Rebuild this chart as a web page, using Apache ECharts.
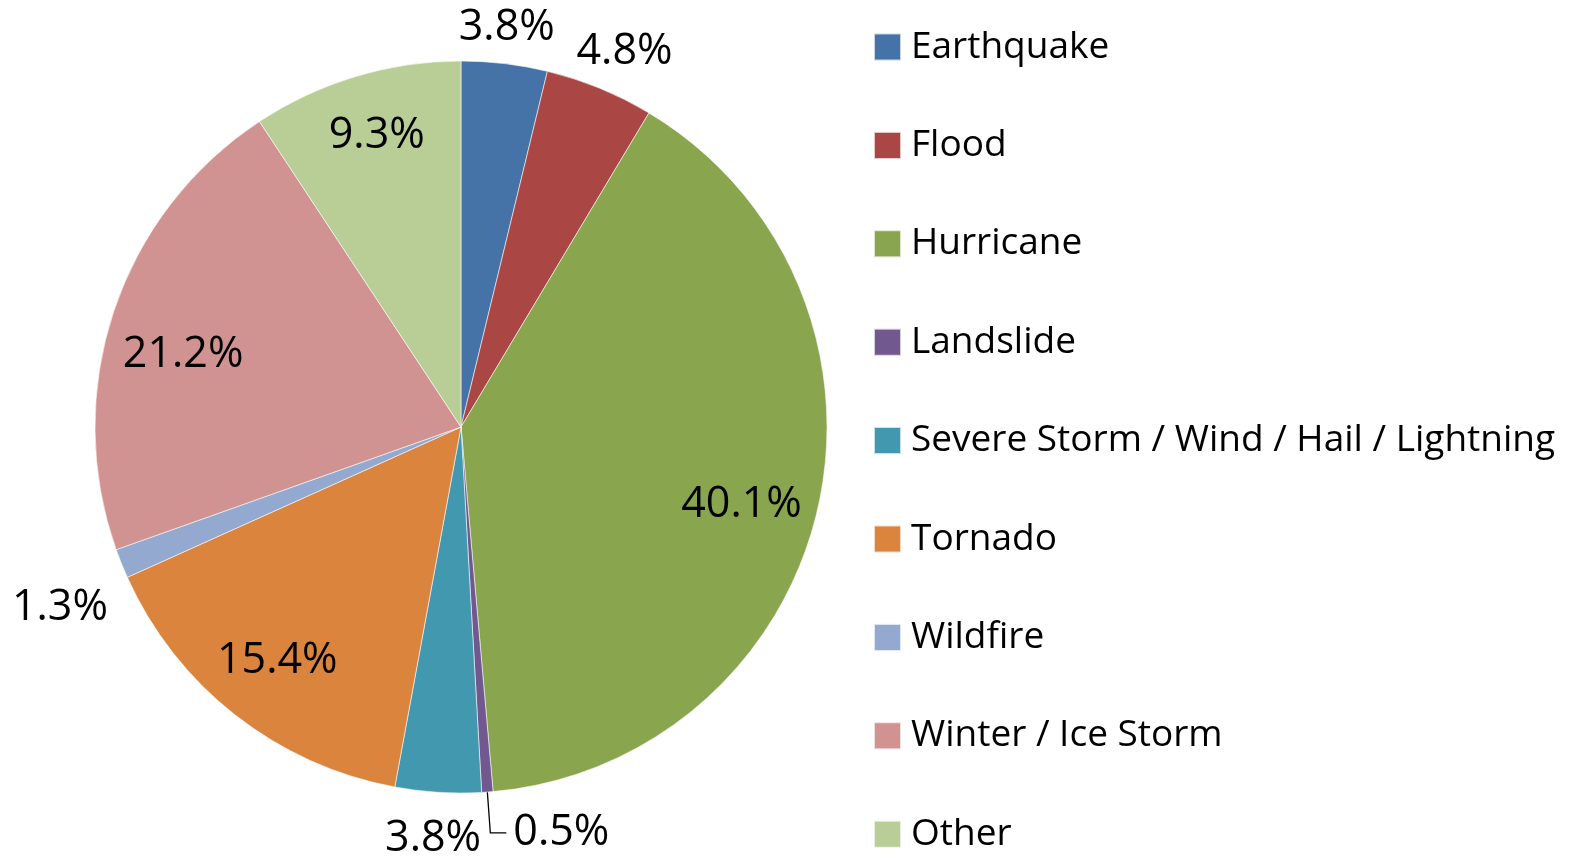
<!DOCTYPE html>
<html>
<head>
<meta charset="utf-8">
<script src="https://cdn.jsdelivr.net/npm/echarts@6/dist/echarts.min.js"></script>
<style>
  html, body { margin: 0; padding: 0; background: #fff; }
  #chart { width: 1585px; height: 864px; }
</style>
</head>
<body>
<div id="chart"></div>
<script>
// ---- data ----
const categories = ['Earthquake', 'Flood', 'Hurricane', 'Landslide', 'Severe Storm / Wind / Hail / Lightning', 'Tornado', 'Wildfire', 'Winter / Ice Storm', 'Other'];
const values = [3.8, 4.8, 40.1, 0.5, 3.8, 15.4, 1.3, 21.2, 9.3];
const colors = ['#4572A7', '#AA4643', '#89A54E', '#71588F', '#4198AF', '#DB843D', '#93A9CF', '#D19392', '#B9CD96'];

// ---- label placement styling ----
const insideLabels = ['Hurricane', 'Tornado', 'Winter / Ice Storm', 'Other'];
const insideNudge = {
  'Hurricane': [-5, 12],
  'Tornado': [-3, 3],
  'Winter / Ice Storm': [0, 21],
  'Other': [0, -11]
};
const outerLabelStyle = {
  'Earthquake': { length: 36, length2: 0, dist: -50, line: false },
  'Flood': { length: 39, length2: 0, dist: -38, line: false },
  'Landslide': { length: 41, length2: 16, dist: 7, line: true },
  'Severe Storm / Wind / Hail / Lightning': { length: 47, length2: 0, dist: -46, line: false },
  'Wildfire': { length: 118, length2: 0, dist: -96, line: false }
};

const FONT = '"Open Sans"';
const CENTER = [461, 427];
const R = 366;
const fmt = p => p.value.toFixed(1) + '%';

const mainData = categories.map((name, i) => {
  const o = outerLabelStyle[name];
  const item = { name, value: values[i], itemStyle: { color: colors[i] } };
  if (o) {
    item.label = { show: true, distanceToLabelLine: o.dist };
    item.labelLine = { show: o.line, length: o.length, length2: o.length2 };
  } else {
    item.label = { show: false };
    item.labelLine = { show: false };
  }
  return item;
});

const labelData = categories.map((name, i) => ({
  name, value: values[i],
  label: { show: insideLabels.indexOf(name) >= 0 }
}));

const chart = echarts.init(document.getElementById('chart'), null, { renderer: 'canvas' });
chart.setOption({
  animation: false,
  backgroundColor: '#ffffff',
  legend: {
    orient: 'vertical',
    left: 873,
    top: 28.5,
    padding: 0,
    itemWidth: 27,
    itemHeight: 27,
    itemGap: 61.4,
    icon: 'rect',
    data: categories.map((n, i) => ({ name: n, itemStyle: { color: colors[i] } })),
    textStyle: { fontFamily: FONT, fontSize: 37, color: '#000', padding: [0, 0, 0, 5] }
  },
  series: [
    {
      type: 'pie',
      center: CENTER,
      radius: R,
      startAngle: 90,
      clockwise: true,
      avoidLabelOverlap: false,
      silent: true,
      itemStyle: { borderColor: 'rgba(255,255,255,0.7)', borderWidth: 0.8 },
      label: {
        position: 'outside',
        formatter: fmt,
        fontFamily: FONT,
        fontSize: 43,
        color: '#000'
      },
      labelLine: { lineStyle: { color: '#000', width: 1.3 } },
      emphasis: { disabled: true },
      data: mainData
    },
    {
      type: 'pie',
      center: CENTER,
      radius: [214, R],
      startAngle: 90,
      clockwise: true,
      avoidLabelOverlap: false,
      silent: true,
      itemStyle: { color: 'rgba(0,0,0,0)' },
      label: {
        position: 'inside',
        formatter: fmt,
        fontFamily: FONT,
        fontSize: 43,
        color: '#000'
      },
      labelLayout: function (params) {
        const n = insideNudge[categories[params.dataIndex]];
        return n ? { dx: n[0], dy: n[1] } : {};
      },
      labelLine: { show: false },
      emphasis: { disabled: true },
      data: labelData
    }
  ]
});
</script>
</body>
</html>
